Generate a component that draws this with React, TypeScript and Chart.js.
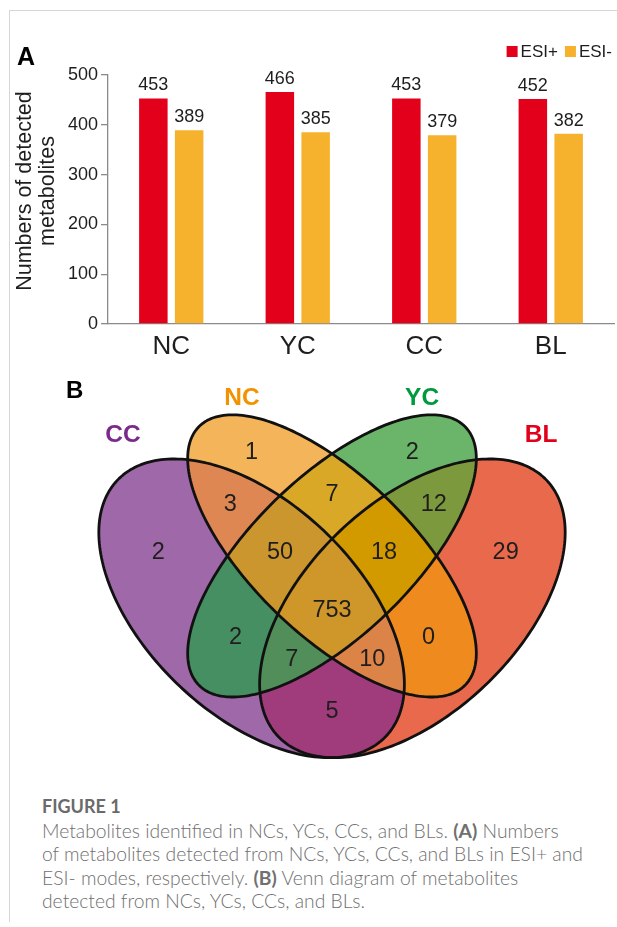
import React, { useEffect, useRef } from "react";
import { Chart, registerables } from "chart.js";

Chart.register(...registerables);

// ---------- DATA ----------
const categories = ["NC", "YC", "CC", "BL"];
const seriesNames = ["ESI+", "ESI-"];
const esiPositive = [453, 466, 453, 452];
const esiNegative = [389, 385, 379, 382];
const yTickValues = [0, 100, 200, 300, 400, 500];
const yAxisTitle = ["Numbers of detected", "metabolites"];

const vennSetNames = ["CC", "NC", "YC", "BL"];
// membership flags in order CC, NC, YC, BL
const vennRegionKeys = ["1000", "0100", "0010", "0001", "1100", "0110", "0011", "1110", "0111", "1111", "1010", "0101", "1011", "1101", "1001"];
const vennCounts = [2, 1, 2, 29, 3, 7, 12, 50, 18, 753, 2, 0, 7, 10, 5];

const captionTitle = "FIGURE 1";

// ---------- STYLE / LAYOUT ----------
const FONT = "'Liberation Sans', Arial, Helvetica, sans-serif";
const BAR_COLORS = ["#E3001B", "#F6B22C"];
const AXIS_COLOR = "#8a8a8a";
const TEXT_COLOR = "#1e1e1e";

// ellipse geometry in venn data units (VennDiagram quad layout)
const ELLIPSES = [
  { cx: 0.35, cy: 0.47, a: 0.35, b: 0.2, ang: -45 },
  { cx: 0.5, cy: 0.57, a: 0.35, b: 0.15, ang: -45 },
  { cx: 0.5, cy: 0.57, a: 0.35, b: 0.15, ang: 45 },
  { cx: 0.65, cy: 0.47, a: 0.35, b: 0.2, ang: 45 },
];
const REGION_LABEL_POS: Record<string, [number, number]> = {
  "1000": [0.176, 0.578],
  "0100": [0.35, 0.769],
  "0010": [0.65, 0.769],
  "0001": [0.824, 0.578],
  "1100": [0.31, 0.67],
  "0110": [0.5, 0.69],
  "0011": [0.69, 0.67],
  "1110": [0.403, 0.578],
  "0111": [0.597, 0.578],
  "1111": [0.5, 0.468],
  "1010": [0.32, 0.417],
  "0101": [0.68, 0.417],
  "1011": [0.425, 0.375],
  "1101": [0.575, 0.375],
  "1001": [0.5, 0.275],
};
const REGION_COLORS: Record<string, string> = {
  "1000": "#9E68A9",
  "0100": "#F4B55A",
  "0010": "#6BB56B",
  "0001": "#E8694B",
  "1100": "#DE8753",
  "0110": "#D8A826",
  "0011": "#7C993D",
  "1110": "#CC962F",
  "0111": "#D39A00",
  "1111": "#CF962A",
  "1010": "#468F62",
  "0101": "#EF8A1F",
  "1011": "#518E5A",
  "1101": "#DC8348",
  "1001": "#A03C7C",
};
const SET_LABEL_POS: [number, number][] = [
  [0.11, 0.803],
  [0.332, 0.873],
  [0.668, 0.873],
  [0.89, 0.803],
];
const SET_LABEL_COLORS = ["#7B2A8C", "#F39200", "#009A3E", "#E2001A"];

const barDecor = {
  id: "barDecor",
  afterDatasetsDraw(chart: any) {
    const { ctx, chartArea } = chart;
    ctx.save();
    // value labels
    ctx.font = `18px ${FONT}`;
    ctx.fillStyle = TEXT_COLOR;
    ctx.textAlign = "center";
    ctx.textBaseline = "alphabetic";
    chart.data.datasets.forEach((ds: any, di: number) => {
      const meta = chart.getDatasetMeta(di);
      meta.data.forEach((bar: any, i: number) => {
        ctx.fillText(String(ds.data[i]), bar.x, bar.y - 8);
      });
    });
    // legend (top right)
    ctx.font = `17px ${FONT}`;
    ctx.textAlign = "left";
    const box = 11;
    const gapBT = 3;
    const gapItems = 7;
    const items = chart.data.datasets.map((ds: any) => ({ text: ds.label, color: ds.backgroundColor }));
    const widths = items.map((it: any) => ctx.measureText(it.text).width);
    const total = items.reduce((s: number, _it: any, i: number) => s + box + gapBT + widths[i], 0) + gapItems * (items.length - 1);
    let xx = chartArea.right - 2 - total;
    const baseY = 57;
    items.forEach((it: any, i: number) => {
      ctx.fillStyle = it.color;
      ctx.fillRect(xx, baseY - 11, box, box);
      xx += box + gapBT;
      ctx.fillStyle = TEXT_COLOR;
      ctx.fillText(it.text, xx, baseY);
      xx += widths[i] + gapItems;
    });
    // y axis title
    ctx.font = `21.5px ${FONT}`;
    ctx.textAlign = "center";
    const yc = 191;
    const baseXs = [30.5, 54];
    yAxisTitle.forEach((line, i) => {
      ctx.save();
      ctx.translate(baseXs[i], yc);
      ctx.rotate(-Math.PI / 2);
      ctx.fillText(line, 0, 0);
      ctx.restore();
    });
    // panel letter
    ctx.font = `bold 25px ${FONT}`;
    ctx.textAlign = "left";
    ctx.fillStyle = "#000";
    ctx.fillText("A", 17, 65);
    ctx.restore();
  },
};

function ellipsePath(e: any, xs: any, ys: any) {
  const p = new Path2D();
  const th = (e.ang * Math.PI) / 180;
  for (let k = 0; k <= 240; k++) {
    const t = (k / 240) * Math.PI * 2;
    const ux = e.cx + e.a * Math.cos(t) * Math.cos(th) - e.b * Math.sin(t) * Math.sin(th);
    const uy = e.cy + e.a * Math.cos(t) * Math.sin(th) + e.b * Math.sin(t) * Math.cos(th);
    const px = xs.getPixelForValue(ux);
    const py = ys.getPixelForValue(uy);
    if (k === 0) p.moveTo(px, py);
    else p.lineTo(px, py);
  }
  p.closePath();
  return p;
}

const vennDecor = {
  id: "vennDecor",
  beforeDatasetsDraw(chart: any) {
    const { ctx } = chart;
    const xs = chart.scales.x;
    const ys = chart.scales.y;
    const paths = ELLIPSES.map((e) => ellipsePath(e, xs, ys));
    const W = chart.width;
    const H = chart.height;
    vennRegionKeys.forEach((key) => {
      ctx.save();
      for (let k = 0; k < 4; k++) {
        if (key[k] === "1") ctx.clip(paths[k]);
        else {
          const q = new Path2D();
          q.rect(-10, -10, W + 20, H + 20);
          q.addPath(paths[k]);
          ctx.clip(q, "evenodd");
        }
      }
      ctx.fillStyle = REGION_COLORS[key];
      ctx.fillRect(0, 0, W, H);
      ctx.restore();
    });
    ctx.save();
    ctx.lineWidth = 2.8;
    ctx.strokeStyle = "#111";
    ctx.lineJoin = "round";
    paths.forEach((p) => ctx.stroke(p));
    ctx.restore();
  },
  afterDatasetsDraw(chart: any) {
    const { ctx } = chart;
    ctx.save();
    ctx.textAlign = "center";
    ctx.textBaseline = "middle";
    ctx.font = `23.5px ${FONT}`;
    ctx.fillStyle = TEXT_COLOR;
    const m0 = chart.getDatasetMeta(0);
    m0.data.forEach((pt: any, i: number) => {
      ctx.fillText(String(vennCounts[i]), pt.x, pt.y + 1);
    });
    ctx.font = `bold 24.5px ${FONT}`;
    const m1 = chart.getDatasetMeta(1);
    m1.data.forEach((pt: any, i: number) => {
      ctx.fillStyle = SET_LABEL_COLORS[i];
      ctx.fillText(vennSetNames[i], pt.x, pt.y + 1);
    });
    ctx.font = `bold 24px ${FONT}`;
    ctx.textAlign = "left";
    ctx.textBaseline = "alphabetic";
    ctx.fillStyle = "#000";
    ctx.fillText("B", 66, 38);
    ctx.restore();
  },
};

export default function App() {
  const barRef = useRef<HTMLCanvasElement>(null);
  const vennRef = useRef<HTMLCanvasElement>(null);

  useEffect(() => {
    const bar = new Chart(barRef.current as HTMLCanvasElement, {
      type: "bar",
      data: {
        labels: categories,
        datasets: [
          { label: seriesNames[0], data: esiPositive, backgroundColor: BAR_COLORS[0], categoryPercentage: 0.566, barPercentage: 0.796 },
          { label: seriesNames[1], data: esiNegative, backgroundColor: BAR_COLORS[1], categoryPercentage: 0.566, barPercentage: 0.796 },
        ],
      },
      options: {
        animation: false,
        responsive: true,
        maintainAspectRatio: false,
        layout: { padding: { top: 75, right: 3, left: 0, bottom: 0 } },
        plugins: { legend: { display: false }, tooltip: { enabled: false } },
        scales: {
          x: {
            grid: { display: false, drawTicks: false, tickLength: 0 },
            border: { color: AXIS_COLOR, width: 1.3 },
            ticks: { font: { family: FONT, size: 26 }, color: TEXT_COLOR, padding: 7 },
            afterFit: (s: any) => {
              s.height = 46;
            },
          },
          y: {
            min: 0,
            max: 500,
            afterBuildTicks: (s: any) => {
              s.ticks = yTickValues.map((v) => ({ value: v }));
            },
            ticks: { font: { family: FONT, size: 18 }, color: TEXT_COLOR, padding: 3 },
            grid: { drawOnChartArea: false, tickLength: 7, color: AXIS_COLOR, lineWidth: 1.3 },
            border: { color: AXIS_COLOR, width: 1.3 },
            afterFit: (s: any) => {
              s.width = 108;
            },
          },
        },
      },
      plugins: [barDecor],
    });

    const venn = new Chart(vennRef.current as HTMLCanvasElement, {
      type: "scatter",
      data: {
        datasets: [
          { label: "regions", data: vennRegionKeys.map((k) => ({ x: REGION_LABEL_POS[k][0], y: REGION_LABEL_POS[k][1] })), pointRadius: 0 },
          { label: "sets", data: SET_LABEL_POS.map((p) => ({ x: p[0], y: p[1] })), pointRadius: 0 },
        ],
      },
      options: {
        animation: false,
        responsive: true,
        maintainAspectRatio: false,
        layout: { padding: 0 },
        plugins: { legend: { display: false }, tooltip: { enabled: false } },
        scales: {
          x: { type: "linear", min: -0.1194, max: 1.0317, display: false },
          y: { type: "linear", min: 0.1424, max: 0.9439, display: false },
        },
      },
      plugins: [vennDecor],
    });

    return () => {
      bar.destroy();
      venn.destroy();
    };
  }, []);

  const captionStyle: React.CSSProperties = {
    position: "absolute",
    left: 42,
    top: 795,
    width: 575,
    fontFamily: "Lato, 'Open Sans', sans-serif",
    fontSize: 19.3,
    fontWeight: 300,
    lineHeight: "23.5px",
    color: "#707070",
    whiteSpace: "nowrap",
  };

  return (
    <div style={{ position: "absolute", left: 0, top: 0, width: 617, height: 927, background: "#fff", overflow: "hidden" }}>
      <div style={{ position: "absolute", left: 9, top: 10, width: 608, height: 1, background: "#d6d6d6" }} />
      <div style={{ position: "absolute", left: 9, top: 10, width: 1, height: 912, background: "#d6d6d6" }} />
      <div style={{ position: "absolute", left: 0, top: 0, width: 617, height: 370 }}>
        <canvas ref={barRef} />
      </div>
      <div style={{ position: "absolute", left: 0, top: 360, width: 617, height: 420 }}>
        <canvas ref={vennRef} />
      </div>
      <div style={captionStyle}>
        <div style={{ fontWeight: 700, fontSize: 18, color: "#6a6a6a" }}>{captionTitle}</div>
        <div>
          Metabolites identified in NCs, YCs, CCs, and BLs. <b style={{ fontWeight: 700 }}>(A)</b> Numbers
        </div>
        <div>of metabolites detected from NCs, YCs, CCs, and BLs in ESI+ and</div>
        <div>
          ESI- modes, respectively. <b style={{ fontWeight: 700 }}>(B)</b> Venn diagram of metabolites
        </div>
        <div>detected from NCs, YCs, CCs, and BLs.</div>
      </div>
    </div>
  );
}
